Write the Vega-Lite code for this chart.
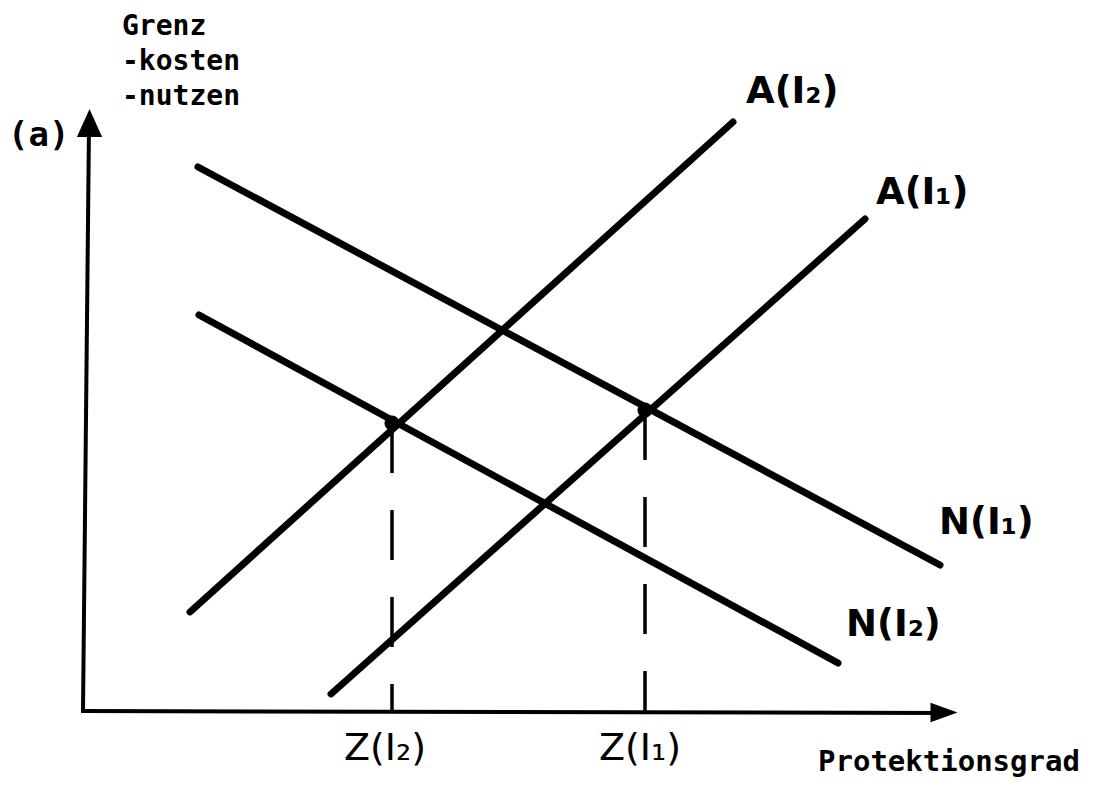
{
  "$schema": "https://vega.github.io/schema/vega-lite/v6.json",
  "width": 1099,
  "height": 786,
  "autosize": {"type": "fit", "contains": "padding"},
  "padding": 0,
  "background": "white",
  "config": {"view": {"stroke": null}},
  "datasets": {
    "curves": [
      {"curve": "A(I2)", "px": 190, "py": 612},
      {"curve": "A(I2)", "px": 733, "py": 122},
      {"curve": "A(I1)", "px": 331, "py": 694},
      {"curve": "A(I1)", "px": 865, "py": 219},
      {"curve": "N(I1)", "px": 198, "py": 167},
      {"curve": "N(I1)", "px": 940, "py": 565},
      {"curve": "N(I2)", "px": 199, "py": 315},
      {"curve": "N(I2)", "px": 838, "py": 663}
    ],
    "axes": [
      {"axis": "y", "px": 83, "py": 711},
      {"axis": "y", "px": 89, "py": 125},
      {"axis": "x", "px": 81, "py": 711},
      {"axis": "x", "px": 945, "py": 713}
    ],
    "equilibria": [
      {"name": "Z(I2)", "px": 392, "py": 423, "base": 711},
      {"name": "Z(I1)", "px": 645, "py": 410, "base": 711}
    ],
    "arrowY": [{"px": 89.5, "py": 123}],
    "arrowX": [{"px": 944, "py": 712.5}],
    "curveLabels": [
      {"label": "A(I₂)", "px": 746, "py": 92},
      {"label": "A(I₁)", "px": 876, "py": 193},
      {"label": "N(I₁)", "px": 939, "py": 523},
      {"label": "N(I₂)", "px": 846, "py": 625}
    ],
    "zLabels": [
      {"label": "Z(I₂)", "px": 344, "py": 749},
      {"label": "Z(I₁)", "px": 599, "py": 749}
    ],
    "yTitle": [
      {"label": "Grenz", "px": 122, "py": 27},
      {"label": "-kosten", "px": 122, "py": 62},
      {"label": "-nutzen", "px": 122, "py": 97}
    ],
    "aLabel": [{"label": "(a)", "px": 8, "py": 136}],
    "xTitle": [{"label": "Protektionsgrad", "px": 818, "py": 762}]
  },
  "layer": [
    {
      "data": {"name": "axes"},
      "mark": {"type": "line", "stroke": "black", "strokeWidth": 4, "strokeCap": "butt"},
      "encoding": {
        "x": {"field": "px", "type": "quantitative", "scale": {"domain": [0, 1099], "nice": false, "zero": false}, "axis": null},
        "y": {"field": "py", "type": "quantitative", "scale": {"domain": [0, 786], "reverse": true, "nice": false, "zero": false}, "axis": null},
        "detail": {"field": "axis"}
      }
    },
    {
      "data": {"name": "arrowY"},
      "mark": {"type": "point", "shape": "M0,-1L0.9,1L-0.9,1Z", "filled": true, "color": "black", "opacity": 1, "size": 784},
      "encoding": {
        "x": {"field": "px", "type": "quantitative"},
        "y": {"field": "py", "type": "quantitative"}
      }
    },
    {
      "data": {"name": "arrowX"},
      "mark": {"type": "point", "shape": "M1,0L-1,-0.72L-1,0.72Z", "filled": true, "color": "black", "opacity": 1, "size": 729},
      "encoding": {
        "x": {"field": "px", "type": "quantitative"},
        "y": {"field": "py", "type": "quantitative"}
      }
    },
    {
      "data": {"name": "equilibria"},
      "mark": {"type": "rule", "stroke": "black", "strokeWidth": 3.5, "strokeDash": [50, 37]},
      "encoding": {
        "x": {"field": "px", "type": "quantitative"},
        "y": {"field": "py", "type": "quantitative"},
        "y2": {"field": "base"}
      }
    },
    {
      "data": {"name": "curves"},
      "mark": {"type": "line", "stroke": "black", "strokeWidth": 7, "strokeCap": "round"},
      "encoding": {
        "x": {"field": "px", "type": "quantitative"},
        "y": {"field": "py", "type": "quantitative"},
        "detail": {"field": "curve"}
      }
    },
    {
      "data": {"name": "equilibria"},
      "mark": {"type": "point", "shape": "circle", "filled": true, "color": "black", "opacity": 1, "size": 230},
      "encoding": {
        "x": {"field": "px", "type": "quantitative"},
        "y": {"field": "py", "type": "quantitative"}
      }
    },
    {
      "data": {"name": "curveLabels"},
      "mark": {"type": "text", "align": "left", "baseline": "middle", "font": "DejaVu Sans", "fontWeight": "bold", "fontSize": 37, "color": "black"},
      "encoding": {
        "x": {"field": "px", "type": "quantitative"},
        "y": {"field": "py", "type": "quantitative"},
        "text": {"field": "label"}
      }
    },
    {
      "data": {"name": "zLabels"},
      "mark": {"type": "text", "align": "left", "baseline": "middle", "font": "DejaVu Sans", "fontSize": 38, "color": "black"},
      "encoding": {
        "x": {"field": "px", "type": "quantitative"},
        "y": {"field": "py", "type": "quantitative"},
        "text": {"field": "label"}
      }
    },
    {
      "data": {"name": "yTitle"},
      "mark": {"type": "text", "align": "left", "baseline": "middle", "font": "DejaVu Sans Mono", "fontWeight": "bold", "fontSize": 28, "color": "black"},
      "encoding": {
        "x": {"field": "px", "type": "quantitative"},
        "y": {"field": "py", "type": "quantitative"},
        "text": {"field": "label"}
      }
    },
    {
      "data": {"name": "aLabel"},
      "mark": {"type": "text", "align": "left", "baseline": "middle", "font": "DejaVu Sans Mono", "fontWeight": "bold", "fontSize": 34, "color": "black"},
      "encoding": {
        "x": {"field": "px", "type": "quantitative"},
        "y": {"field": "py", "type": "quantitative"},
        "text": {"field": "label"}
      }
    },
    {
      "data": {"name": "xTitle"},
      "mark": {"type": "text", "align": "left", "baseline": "middle", "font": "DejaVu Sans Mono", "fontWeight": "bold", "fontSize": 29, "color": "black"},
      "encoding": {
        "x": {"field": "px", "type": "quantitative"},
        "y": {"field": "py", "type": "quantitative"},
        "text": {"field": "label"}
      }
    }
  ]
}
